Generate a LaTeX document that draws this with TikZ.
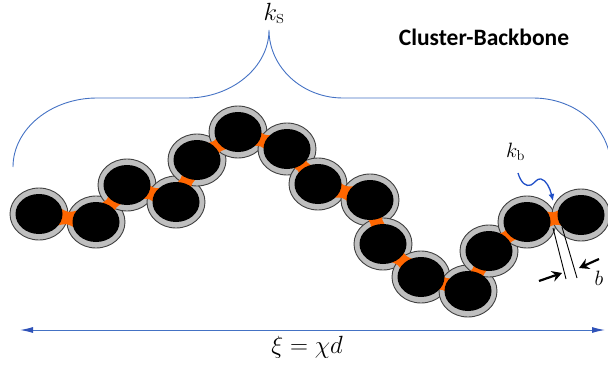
\documentclass[tikz,border=0pt]{standalone}
\usepackage{fontspec}
\newfontfamily\labelfont{Carlito}
\usetikzlibrary{arrows.meta,calc,shapes.geometric}
\definecolor{ringgray}{HTML}{BFBFBF}
\definecolor{ringline}{HTML}{404040}
\definecolor{bondorange}{HTML}{FF6600}
\definecolor{braceblue}{HTML}{4472C4}
\definecolor{tipblue}{HTML}{2F52B8}
\definecolor{wavyblue}{HTML}{2150C8}
\begin{document}
\begin{tikzpicture}[x=1pt,y=-1pt,
  ring/.style={ellipse, fill=ringgray, draw=ringline, line width=0.9pt,
    minimum width=58pt, minimum height=52pt, inner sep=0pt, outer sep=0pt},
  core/.style={fill=black},
  bondbox/.style={minimum width=16pt, minimum height=17pt, inner sep=0pt, outer sep=0pt, sloped},
  bond/.style={fill=bondorange},
  brace/.style={draw=braceblue, line width=0.9pt},
  dimarrow/.style={draw=braceblue, line width=1pt,
    {Latex[length=13pt,width=6pt,color=tipblue]}-{Latex[length=13pt,width=6pt,color=tipblue]}},
  wavy/.style={draw=wavyblue, line width=1.3pt, -{Latex[length=7pt,width=6pt]}},
  thinline/.style={draw=black, line width=0.9pt},
  thickarrow/.style={draw=black, line width=2.2pt, -{Stealth[length=10pt,width=11pt,inset=3.5pt]}},
  mathlabel/.style={anchor=base, inner sep=0pt}
]
\useasboundingbox (0,0) rectangle (608,367);

% brace
\draw[brace] (13,167) .. controls (13,129) and (51,98) .. (97,98) -- (187,98)
  .. controls (232,98) and (269,67) .. (269,30)
  .. controls (269,67) and (302,98) .. (343,98) -- (533,98)
  .. controls (576,98) and (611,128) .. (611,168);

% particles (rings)
\foreach \i/\x/\y in {1/39/214, 2/96/222, 3/127/185, 4/176/202, 5/197/160,
  6/238/132, 7/287/149, 8/318/184, 9/370/200, 10/383/244, 11/421/277,
  12/468/291, 13/489/251, 14/527/222, 15/581/215}
  \node[ring] (p\i) at (\x,\y) {};

% bonds
\foreach \a/\b in {1/2,2/3,3/4,4/5,5/6,6/7,7/8,8/9,9/10,10/11,11/12,12/13,13/14,14/15} {
  \path (p\a.center) -- (p\b.center) node[midway, bondbox] (b\a) {};
  \fill[bond] (b\a.north west) .. controls ($(b\a.north)!0.35!(b\a.center)$) .. (b\a.north east)
    -- (b\a.south east) .. controls ($(b\a.south)!0.35!(b\a.center)$) .. (b\a.south west) -- cycle;
}

% cores
\foreach \i in {1,...,15}
  \fill[core] (p\i.center) ellipse [x radius=23.5pt, y radius=20pt];

% labels
\node[mathlabel, font=\fontsize{24.88}{29}\selectfont] (ks) at (274,20) {$k_{\mathrm{s}}$};
\node[anchor=base, inner sep=0pt, font=\labelfont\bfseries\fontsize{23.5}{28}\selectfont] (title) at (484,45) {Cluster-Backbone};
\node[mathlabel, font=\fontsize{20.74}{25}\selectfont] (kb) at (515.5,157) {$k_{\mathrm{b}}$};
\node[mathlabel, font=\fontsize{24.88}{29}\selectfont] (xi) at (307,353) {$\xi = \chi d$};
\node[mathlabel, font=\fontsize{20.74}{25}\selectfont] (blab) at (599,285) {$b$};

% bottom dimension arrow
\coordinate (xl) at (20,330);
\coordinate (xr) at (605,330);
\draw[dimarrow] (xl) -- (xr);

% wavy arrow to bond
\coordinate (w0) at (518,173);
\coordinate (w1) at (553,201);
\draw[wavy] (w0) .. controls (521,183) and (526,187) .. (531,185)
  .. controls (535,183) and (537,178) .. (541,179)
  .. controls (546,180) and (550,188) .. (w1);

% bond width b
\coordinate (l1a) at (553,228);
\coordinate (l1b) at (566,279);
\coordinate (l2a) at (562,227);
\coordinate (l2b) at (577,278);
\draw[thinline] (l1a) -- (l1b);
\draw[thinline] (l2a) -- (l2b);
\coordinate (a1s) at (539,281);
\coordinate (a1e) at (562,273);
\coordinate (a2s) at (599,259);
\coordinate (a2e) at (579,268);
\draw[thickarrow] (a1s) -- (a1e);
\draw[thickarrow] (a2s) -- (a2e);
\end{tikzpicture}
\end{document}
